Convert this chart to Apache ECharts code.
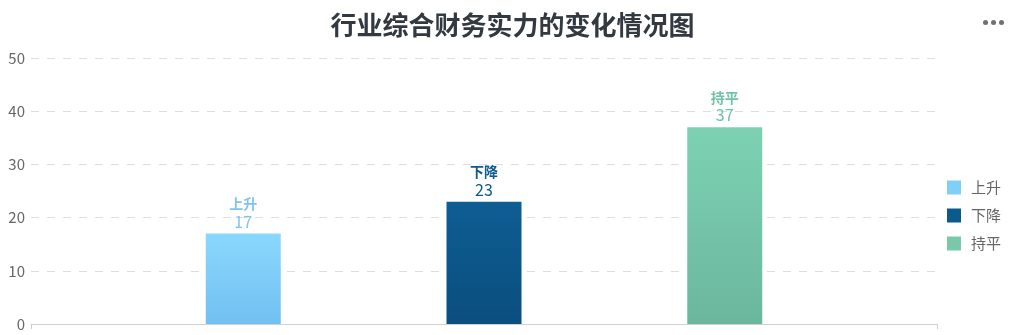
<!DOCTYPE html>
<html>
<head>
<meta charset="utf-8">
<script src="https://cdn.jsdelivr.net/npm/echarts@6/dist/echarts.min.js"></script>
<style>html,body{margin:0;padding:0;background:#fff}#c{width:1025px;height:335px}</style>
</head>
<body>
<div id="c"></div>
<script>
const titleText = '行业综合财务实力的变化情况图';
const categories = ['行业'];
const seriesNames = ['上升', '下降', '持平'];
const seriesValues = [[17], [23], [37]];
const yTicks = [0, 10, 20, 30, 40, 50];

const topColors = ['#8AD7FE', '#0E5D93', '#7DD1B3'];
const bottomColors = ['#72C0F1', '#0A4E7E', '#6BB79E'];
const labelColors = ['#7FC5EE', '#0D5A8E', '#6FC2A3'];
const legendColors = ['#80CFF8', '#0C5A8C', '#79C8AA'];

const chart = echarts.init(document.getElementById('c'));
const font = "'Noto Sans CJK SC', 'Noto Sans', sans-serif";

const series = seriesNames.map((name, i) => ({
  name: name,
  type: 'bar',
  data: seriesValues[i],
  barWidth: 75,
  barGap: '221%',
  itemStyle: {
    color: new echarts.graphic.LinearGradient(0, 0, 0, 1, [
      {offset: 0, color: topColors[i]},
      {offset: 1, color: bottomColors[i]}
    ])
  },
  label: {
    show: true,
    position: 'top',
    distance: 3,
    formatter: '{n|{a}}\n{v|{c}}',
    rich: {
      n: {fontSize: 14, fontWeight: 'bold', color: labelColors[i], lineHeight: 17, fontFamily: font},
      v: {fontSize: 16, color: labelColors[i], lineHeight: 18, fontFamily: font}
    }
  }
}));

chart.setOption({
  backgroundColor: '#fff',
  textStyle: {fontFamily: font},
  title: {
    text: titleText,
    left: 'center',
    top: 7,
    textStyle: {fontSize: 26, fontWeight: 'bold', color: '#333940', fontFamily: font}
  },
  graphic: [{
    type: 'group',
    right: 21,
    top: 20,
    children: [0, 1, 2].map(k => ({
      type: 'circle',
      shape: {cx: 2.5 + k * 8, cy: 2.5, r: 2.5},
      style: {fill: '#707070'}
    }))
  }],
  legend: {
    orient: 'vertical',
    right: 19,
    top: 175,
    itemWidth: 14,
    itemHeight: 14,
    itemGap: 13,
    icon: 'rect',
    data: seriesNames.map((n, i) => ({name: n, itemStyle: {color: legendColors[i]}})),
    textStyle: {fontSize: 15, color: '#666', fontFamily: font, lineHeight: 14, padding: [0, 0, 0, 5]}
  },
  grid: {left: 31, right: 88, top: 58, bottom: 11, containLabel: false},
  xAxis: {
    type: 'category',
    data: categories,
    axisLine: {lineStyle: {color: '#d0d0d0'}},
    axisTick: {show: true, lineStyle: {color: '#d0d0d0'}},
    axisLabel: {show: false}
  },
  yAxis: {
    type: 'value',
    min: yTicks[0],
    max: yTicks[yTicks.length - 1],
    interval: 10,
    axisLine: {show: false},
    axisTick: {show: false},
    axisLabel: {fontSize: 15, color: '#666', margin: 6, fontFamily: font},
    splitLine: {lineStyle: {type: [8, 8], color: '#dedede'}}
  },
  series: series
});
</script>
</body>
</html>
